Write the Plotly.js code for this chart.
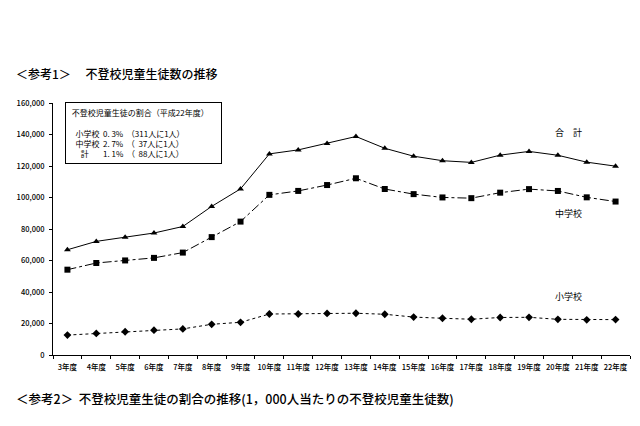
<!DOCTYPE html>
<html><head><meta charset="utf-8">
<script src="https://cdn.plot.ly/plotly-3.0.1.min.js"></script>
<style>html,body{margin:0;padding:0;background:#fff}</style>
</head><body><div id="chart" style="width:640px;height:426px"></div>
<script>
const years = ["3年度","4年度","5年度","6年度","7年度","8年度","9年度","10年度","11年度","12年度","13年度","14年度","15年度","16年度","17年度","18年度","19年度","20年度","21年度","22年度"];
const elementary = [12645,13710,14769,15786,16569,19498,20765,26017,26047,26373,26511,25869,24077,23318,22709,23825,23927,22652,22327,22463];
const juniorHigh = [54172,58421,60039,61663,65022,74853,84701,101675,104180,107913,112211,105383,102149,100040,99578,103069,105328,104153,100105,97428];
const total = [66817,72131,74808,77449,81591,94351,105466,127692,130227,134286,138722,131252,126226,123358,122287,126894,129255,126805,122432,119891];
const seriesNames = ["合　計","中学校","小学校"];
const boxLines = ["&nbsp;不登校児童生徒の割合（平成22年度）","","&nbsp;&nbsp;&nbsp;小学校&nbsp;&nbsp;0. 3%&nbsp;&nbsp;（311人に1人）","&nbsp;&nbsp;&nbsp;中学校&nbsp;&nbsp;2. 7%&nbsp;&nbsp;（&nbsp;&nbsp;37人に1人）","&nbsp;&nbsp;&nbsp;&nbsp;&nbsp;&nbsp;計&nbsp;&nbsp;&nbsp;&nbsp;&nbsp;&nbsp;&nbsp;&nbsp;1. 1%&nbsp;&nbsp;（&nbsp;&nbsp;88人に1人）"];
const FONT = "'Noto Sans CJK JP', sans-serif";

const L = 53, R = 10, T = 103, B = 71, W = 640, H = 426;
const pw = W - L - R, ph = H - T - B;
const px = v => (v - L) / pw;
const py = v => (H - B - v) / ph;

const traces = [
  {x: years, y: total, name: seriesNames[0], mode: "lines+markers",
   line: {color: "#000", width: 1, dash: "solid"},
   marker: {symbol: "triangle-up", size: 6, color: "#000"}},
  {x: years, y: juniorHigh, name: seriesNames[1], mode: "lines+markers",
   line: {color: "#000", width: 1, dash: "dashdot"},
   marker: {symbol: "square", size: 6, color: "#000"}},
  {x: years, y: elementary, name: seriesNames[2], mode: "lines+markers",
   line: {color: "#000", width: 1, dash: "dot"},
   marker: {symbol: "diamond", size: 6, color: "#000"}}
];

const layout = {
  width: W, height: H,
  margin: {l: L, r: R, t: T, b: B},
  paper_bgcolor: "#fff", plot_bgcolor: "#fff",
  showlegend: false,
  font: {family: FONT, color: "#000", size: 8},
  xaxis: {type: "category", range: [-0.5, 19.5], showgrid: false, zeroline: false,
          showline: true, linecolor: "#000", linewidth: 1,
          ticks: "outside", tickson: "boundaries", ticklen: 3, tickcolor: "#000",
          ticklabelstandoff: 5,
          tickangle: 0, tickfont: {size: 7.5, family: FONT, weight: 500}, fixedrange: true},
  yaxis: {range: [0, 160000], dtick: 20000, tickformat: ",", showgrid: false, zeroline: false,
          showline: true, linecolor: "#000", linewidth: 1,
          ticks: "outside", ticklen: 3, tickcolor: "#000",
          ticklabelstandoff: 3,
          tickfont: {size: 7.5, family: FONT, weight: 500}, fixedrange: true},
  annotations: [
    {xref: "paper", yref: "paper", x: px(14), y: py(73), xanchor: "left", yanchor: "middle",
     text: "＜参考1＞　 不登校児童生徒数の推移", showarrow: false, font: {size: 12, family: FONT, weight: 500}},
    {xref: "paper", yref: "paper", x: px(14), y: py(398), xanchor: "left", yanchor: "middle",
     text: "＜参考2＞  不登校児童生徒の割合の推移(1，000人当たりの不登校児童生徒数)", showarrow: false, font: {size: 12.5, family: FONT, weight: 500}},
    {xref: "paper", yref: "paper", x: px(65), y: py(102), xanchor: "left", yanchor: "top",
     width: 147, height: 52, valign: "middle",
     text: boxLines.join("<br>"), align: "left", showarrow: false,
     bordercolor: "#000", borderwidth: 1, borderpad: 4, bgcolor: "#fff",
     font: {size: 8, family: FONT}},
    {xref: "paper", yref: "paper", x: px(568), y: py(132), xanchor: "center", yanchor: "middle",
     text: seriesNames[0], showarrow: false, font: {size: 9, family: FONT}},
    {xref: "paper", yref: "paper", x: px(568), y: py(213), xanchor: "center", yanchor: "middle",
     text: seriesNames[1], showarrow: false, font: {size: 9, family: FONT}},
    {xref: "paper", yref: "paper", x: px(568), y: py(296), xanchor: "center", yanchor: "middle",
     text: seriesNames[2], showarrow: false, font: {size: 9, family: FONT}}
  ]
};
Plotly.newPlot("chart", traces, layout, {staticPlot: true});
</script></body></html>
